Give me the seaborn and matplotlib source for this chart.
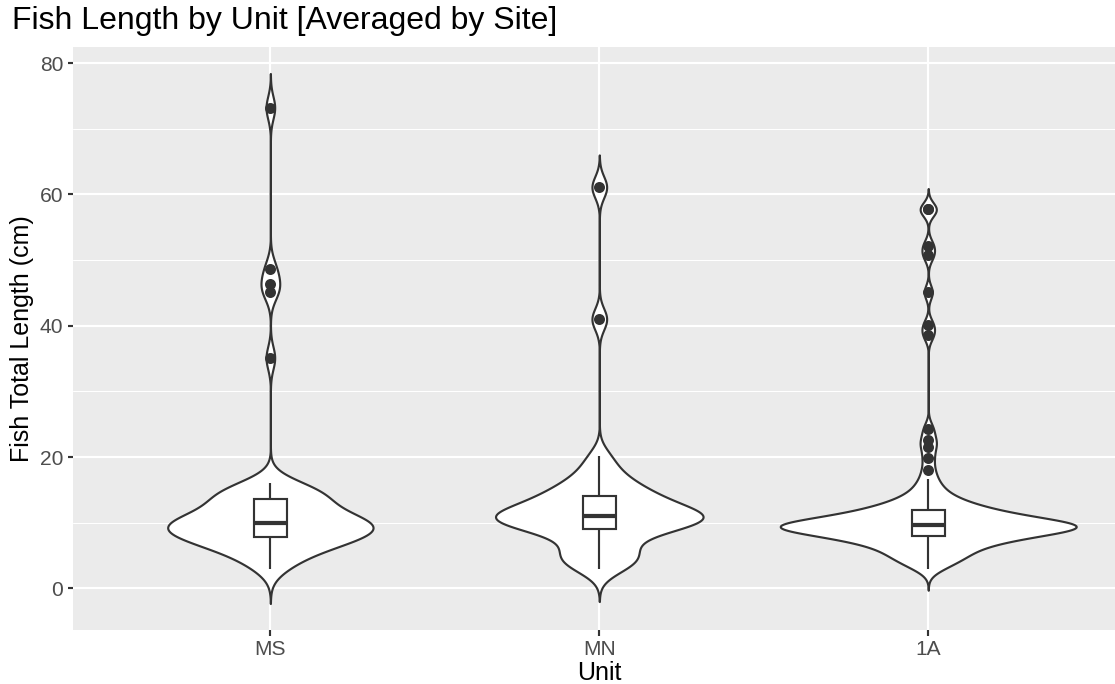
import numpy as np
import pandas as pd
import matplotlib
matplotlib.use("Agg")
import matplotlib.pyplot as plt
from matplotlib.ticker import FixedLocator
import seaborn as sns

# Fish total length (cm) per unit, averaged by site
units = ["MS", "MN", "1A"]

ms_lengths = [2.9, 3.6, 4.3, 4.9, 5.4, 5.8, 6.2, 6.5, 6.8, 7.0, 7.2, 7.4, 7.6,
              7.7,
              7.8, 8.0, 8.2, 8.4, 8.6, 8.8, 9.0, 9.2, 9.3, 9.5, 9.6, 9.7, 9.8,
              9.9,
              10.1, 10.2, 10.3, 10.5, 10.7, 10.9, 11.1, 11.4, 11.7, 12.0, 12.4,
              12.8, 13.2, 13.5,
              13.7, 13.9, 14.2, 14.5, 14.8, 15.1, 15.4, 15.7, 16.1,
              35.1, 45.1, 46.4, 48.7, 73.2]

mn_lengths = [2.9, 3.6, 4.3, 4.9, 5.5, 6.3, 7.4, 8.3, 8.9,
              9.2, 9.5, 9.8, 10.1, 10.3, 10.5, 10.7, 10.9, 11.0,
              11.2, 11.5, 11.8, 12.1, 12.5, 12.9, 13.3, 13.8,
              14.2, 14.7, 15.3, 16.0, 16.9, 18.2, 20.1,
              41.0, 61.1]

a1_lengths = [2.9, 3.4, 3.9,
              4.2, 4.5, 4.8, 5.0, 5.3, 5.5, 5.8, 6.0,
              6.2, 6.4, 6.6, 6.8, 7.0, 7.1, 7.3, 7.4,
              7.5, 7.6, 7.7, 7.8, 7.9, 8.0,
              8.1, 8.2, 8.3, 8.4, 8.5, 8.6, 8.7, 8.8, 8.9, 8.9, 9.0, 9.1, 9.1,
              9.2, 9.2, 9.3, 9.3, 9.4, 9.4, 9.5, 9.5, 9.5, 9.6, 9.6,
              9.6, 9.7, 9.7, 9.8, 9.8, 9.9, 10.0, 10.1, 10.2, 10.3, 10.4, 10.5,
              10.6, 10.7, 10.8, 10.9, 11.0, 11.1, 11.2, 11.3, 11.4, 11.6, 11.7,
              11.9,
              12.0, 12.2, 12.4, 12.6, 12.8, 13.0, 13.3, 13.6, 14.0, 14.5, 15.0,
              15.8, 16.7,
              18.1, 19.9, 21.6, 22.6, 24.3, 38.6, 40.1, 45.1, 50.7, 52.2, 57.7,
              57.7]

groups = {"MS": ms_lengths, "MN": mn_lengths, "1A": a1_lengths}
df = pd.DataFrame({
    "Unit": [u for u in units for _ in groups[u]],
    "Length": [v for u in units for v in groups[u]],
})


def nrd0(x):
    """Silverman's rule of thumb (R's bw.nrd0)."""
    x = np.asarray(x, dtype=float).ravel()
    sd = x.std(ddof=1)
    q25, q75 = np.percentile(x, [25, 75])
    spread = min(sd, (q75 - q25) / 1.34)
    return 0.9 * spread * len(x) ** -0.2


def bw_nrd0(kde):
    x = np.asarray(kde.dataset).ravel()
    return nrd0(x) / x.std(ddof=1)


grey20 = "#333333"
sns.set_style("darkgrid", {
    "axes.facecolor": "#EBEBEB",
    "grid.color": "white",
    "axes.edgecolor": "#EBEBEB",
})
plt.rcParams["font.family"] = ["Liberation Sans", "DejaVu Sans"]

W, H, DPI = 1115, 684, 144
fig = plt.figure(figsize=(W / DPI, H / DPI), dpi=DPI)
px_left, px_right, px_top, px_bottom = 73, 1125.6, 47, 630
ax = fig.add_axes([px_left / W, 1 - px_bottom / H,
                   (px_right - px_left) / W, (px_bottom - px_top) / H])

sns.violinplot(data=df, x="Unit", y="Length", order=units, color="white",
               linecolor=grey20, linewidth=1.07, inner=None, cut=3,
               bw_method=bw_nrd0, density_norm="area", width=0.9,
               gridsize=512, saturation=1, ax=ax)

sns.boxplot(data=df, x="Unit", y="Length", order=units, width=0.1,
            color="white", linecolor=grey20, linewidth=1.07, saturation=1,
            showcaps=False, whis=1.5, fliersize=4.5,
            flierprops={"marker": "o", "markerfacecolor": grey20,
                        "markeredgecolor": grey20},
            medianprops={"linewidth": 2.1, "color": grey20},
            ax=ax)

# y range: violin extents (3 bandwidths past the data) plus 5% padding
lo = min(min(v) - 3 * nrd0(v) for v in groups.values())
hi = max(max(v) + 3 * nrd0(v) for v in groups.values())
pad = 0.05 * (hi - lo)
ax.set_ylim(lo - pad, hi + pad)
ax.set_xlim(-0.6, len(units) - 0.4)

ax.set_yticks([0, 20, 40, 60, 80])
ax.yaxis.set_minor_locator(FixedLocator([10, 30, 50, 70]))
ax.set_axisbelow(True)
ax.grid(which="major", color="white", linewidth=1.07)
ax.grid(which="minor", axis="y", color="white", linewidth=0.53)
ax.xaxis.grid(True, which="major")
for s in ax.spines.values():
    s.set_visible(False)

ax.tick_params(which="major", length=2.75, width=1.07, color=grey20,
               labelcolor="#4D4D4D", labelsize=10.5, pad=2.2,
               bottom=True, left=True)
ax.tick_params(which="minor", length=0)

ax.set_xlabel("Unit", fontsize=12.5, color="black", labelpad=1.0)
ax.set_ylabel("Fish Total Length (cm)", fontsize=12.5, color="black",
              labelpad=3.0)

fig.text(12 / W, 1 - 21 / H, "Fish Length by Unit [Averaged by Site]",
         fontsize=16, color="black", ha="left", va="center")

fig.savefig("out.png", dpi=DPI)
